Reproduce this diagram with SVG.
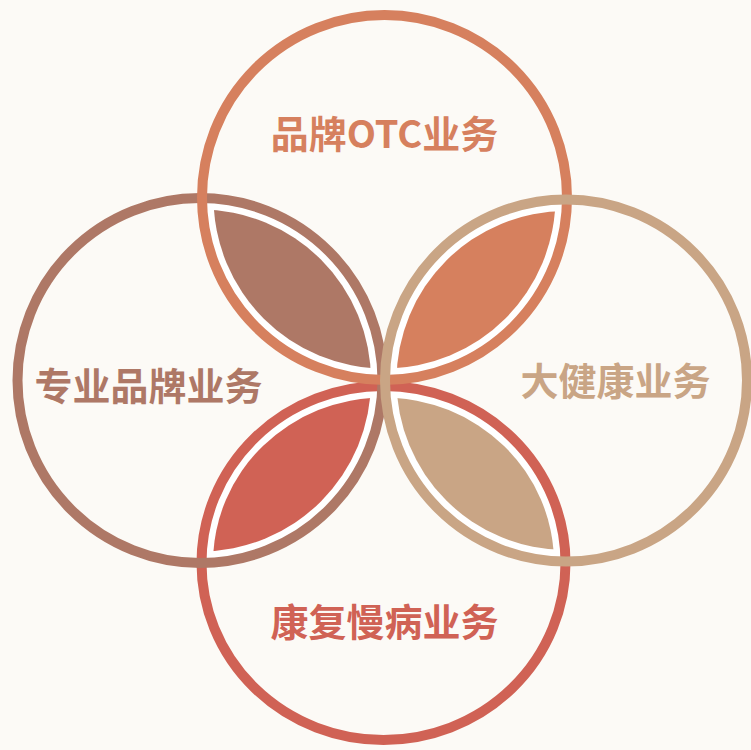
<svg xmlns="http://www.w3.org/2000/svg" width="751" height="750" viewBox="0 0 751 750">
  <style>
    .ring { fill: none; stroke-width: 10; }
    .lbl { font-family: "Noto Sans CJK SC", "Noto Sans", sans-serif; font-weight: 700; font-size: 38px; text-anchor: middle; }
    .gap { fill: #FFFFFF; }
  </style>
  <defs>
    <clipPath id="cl-full"><circle cx="200" cy="380.5" r="182.5"/></clipPath>
    <clipPath id="cr-full"><circle cx="566" cy="380.5" r="181"/></clipPath>
    <clipPath id="cl-in"><circle cx="200" cy="380.5" r="171"/></clipPath>
    <clipPath id="cr-in"><circle cx="566" cy="380.5" r="169.5"/></clipPath>
  </defs>
  <rect width="751" height="750" fill="#FCFAF6"/>

  <g id="leaves">
    <!-- top ∩ left -->
    <circle class="gap" cx="384.5" cy="197.5" r="182.5" clip-path="url(#cl-full)"/>
    <circle cx="384.5" cy="197.5" r="171" fill="#AE7866" clip-path="url(#cl-in)"/>
    <!-- top ∩ right -->
    <circle class="gap" cx="384.5" cy="197.5" r="182.5" clip-path="url(#cr-full)"/>
    <circle cx="384.5" cy="197.5" r="171" fill="#D6805E" clip-path="url(#cr-in)"/>
    <!-- bottom ∩ left -->
    <ellipse class="gap" cx="383.5" cy="563" rx="182" ry="177" clip-path="url(#cl-full)"/>
    <ellipse cx="383.5" cy="563" rx="170.5" ry="165.5" fill="#D06255" clip-path="url(#cl-in)"/>
    <!-- bottom ∩ right -->
    <ellipse class="gap" cx="383.5" cy="563" rx="182" ry="177" clip-path="url(#cr-full)"/>
    <ellipse cx="383.5" cy="563" rx="170.5" ry="165.5" fill="#C9A585" clip-path="url(#cr-in)"/>
  </g>

  <g id="node-bottom">
    <ellipse class="ring" cx="383.5" cy="563" rx="182" ry="177" stroke="#D06255"/>
    <text class="lbl" x="384.5" y="635.5" fill="#D06255">康复慢病业务</text>
  </g>
  <g id="node-left">
    <circle class="ring" cx="200" cy="380.5" r="182.5" stroke="#AE7866"/>
    <text class="lbl" x="148.5" y="400" fill="#AE7866">专业品牌业务</text>
  </g>
  <g id="node-top">
    <circle class="ring" cx="384.5" cy="197.5" r="182.5" stroke="#D6805E"/>
    <text class="lbl" x="384.5" y="147.5" fill="#D6805E">品牌OTC业务</text>
  </g>
  <g id="node-right">
    <circle class="ring" cx="566" cy="380.5" r="181" stroke="#C9A585"/>
    <text class="lbl" x="615.5" y="394.5" fill="#C9A585">大健康业务</text>
  </g>
</svg>
